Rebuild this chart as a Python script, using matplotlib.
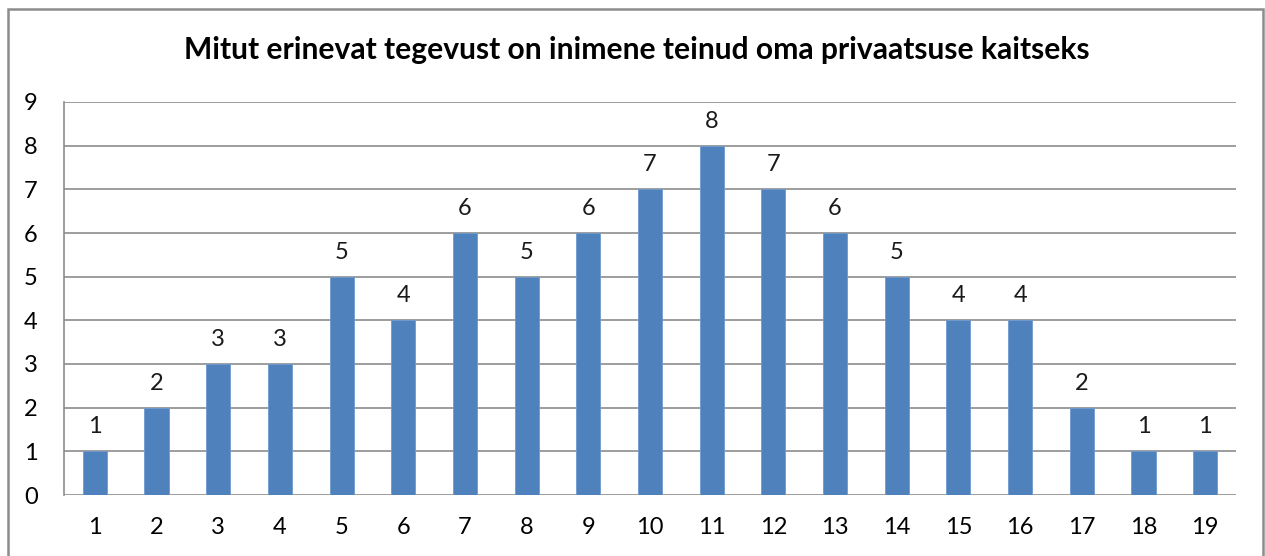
import matplotlib
matplotlib.use("Agg")
import matplotlib.pyplot as plt
from matplotlib.patches import Rectangle

categories = [str(i) for i in range(1, 20)]
values = [1, 2, 3, 3, 5, 4, 6, 5, 6, 7, 8, 7, 6, 5, 4, 4, 2, 1, 1]
title = "Mitut erinevat tegevust on inimene teinud oma privaatsuse kaitseks"
yticks = list(range(0, 10))

plt.rcParams['font.family'] = ['Lato', 'DejaVu Sans']

fig = plt.figure(figsize=(12.65, 5.56), dpi=100)
fig.patch.set_facecolor("white")
fig.add_artist(Rectangle((8/1265, -0.05), (1263-8)/1265, 1.05 - 9/556,
                         transform=fig.transFigure, fill=False,
                         edgecolor="#8c8c8c", linewidth=1.8))

ax = fig.add_axes([64/1265, 1-495/556, (1236-64)/1265, (495-102)/556])
x = list(range(len(categories)))
bars = ax.bar(x, values, width=0.39, color="#4F81BD", edgecolor="#6f9bd0",
              linewidth=0.6, zorder=3)
ax.set_xlim(-0.5, len(categories) - 0.5)
ax.set_ylim(0, 9)
ax.set_yticks(yticks)
ax.set_yticklabels([str(t) for t in yticks], fontsize=17)
ax.set_xticks(x)
ax.set_xticklabels(categories, fontsize=17)
ax.yaxis.grid(True, color="#8c8c8c", linewidth=1.2, zorder=0)
ax.tick_params(axis="both", length=0)
ax.tick_params(axis="y", pad=19)
ax.tick_params(axis="x", pad=16)
for s in ["top", "right", "bottom"]:
    ax.spines[s].set_visible(False)
ax.spines["left"].set_color("#8c8c8c")
ax.spines["left"].set_linewidth(1.2)

for xi, v in zip(x, values):
    ax.annotate(str(v), (xi, v), xytext=(0, 10), textcoords="offset points",
                ha="center", va="bottom", fontsize=17, color="#1a1a1a")

fig.text(637/1265, 1-50/556, title, ha="center", va="center",
         fontsize=21.6, fontweight="bold", color="#000000")

fig.savefig("out.png", dpi=100)
